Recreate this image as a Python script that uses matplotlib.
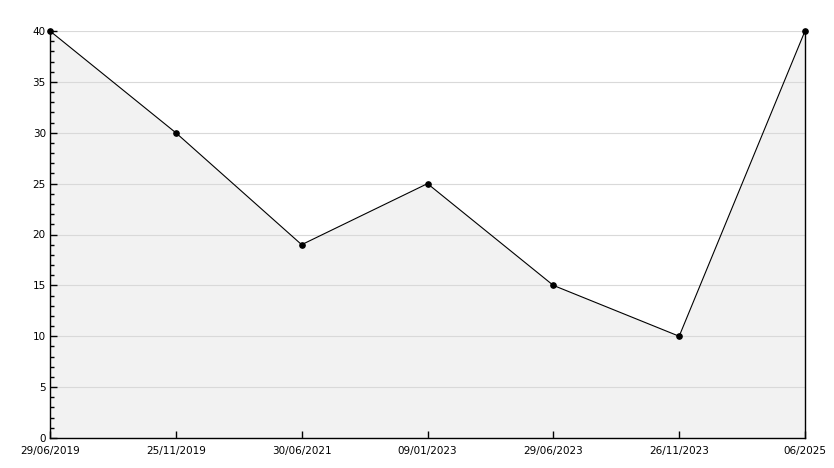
import matplotlib
matplotlib.use("Agg")
import matplotlib.pyplot as plt
from matplotlib.ticker import MultipleLocator

# data
dates = ["29/06/2019", "25/11/2019", "30/06/2021", "09/01/2023",
         "29/06/2023", "26/11/2023", "06/2025"]
values = [40, 30, 19, 25, 15, 10, 40]

fig = plt.figure(figsize=(8.34, 4.68), dpi=100)
ax = fig.add_axes([50 / 834, 30 / 468, 755 / 834, 407 / 468])

x = list(range(len(dates)))
# fill sits under grid and ticks
ax.fill_between(x, values, 0, color="#f2f2f2", linewidth=0, zorder=0.5)
ax.plot(x, values, color="black", linewidth=0.8, marker="o",
        markersize=3.8, zorder=3, clip_on=False)

ax.set_xlim(0, len(dates) - 1)
ax.set_ylim(0, 40)
ax.set_xticks(x)
ax.set_xticklabels(dates)
ax.yaxis.set_major_locator(MultipleLocator(5))
ax.yaxis.set_minor_locator(MultipleLocator(1))

ax.grid(axis="y", color="#d9d9d9", linewidth=0.8)

ax.spines["top"].set_visible(False)
for s in ["left", "bottom", "right"]:
    ax.spines[s].set_linewidth(1.0)
    ax.spines[s].set_color("black")

ax.tick_params(axis="y", which="major", direction="in", length=5,
               width=1, labelsize=7.5, pad=3)
ax.tick_params(axis="y", which="minor", direction="in", length=3, width=1)
ax.tick_params(axis="x", which="major", direction="in", length=5,
               width=1, labelsize=7.5, pad=6)

fig.savefig("out.png", dpi=100)
